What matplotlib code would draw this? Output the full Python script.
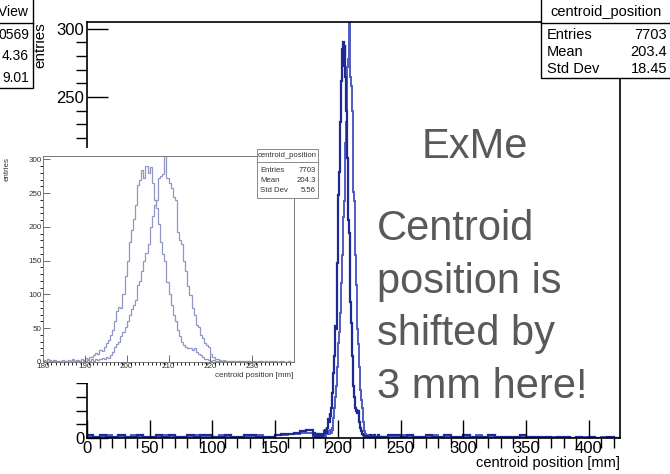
import numpy as np
import matplotlib.pyplot as plt
from matplotlib.patches import Rectangle
from matplotlib.lines import Line2D

plt.rcParams['font.family'] = ['Liberation Sans', 'DejaVu Sans']

W, H = 670, 474

# zoom window, 0.5 mm bins from 180 to 240 mm
zoom_range = (180, 240)
run_a = [3, 2, 4, 1, 2, 3, 1, 2, 0, 3,
         2, 1, 3, 2, 4, 1, 3, 2, 5, 3,
         6, 4, 8, 7, 10, 14, 12, 18, 16, 22,
         28, 33, 40, 48, 60, 75, 82, 80, 100, 128,
         150, 178, 195, 212, 232, 262, 270, 285, 272, 290,
         280, 288, 265, 240, 228, 205, 178, 160, 150, 118,
         100, 84, 70, 60, 48, 38, 30, 25, 22, 20,
         21, 18, 20, 15, 12, 10, 7, 5, 4, 3,
         2, 3, 1, 2, 1, 0, 2, 1, 0, 1,
         1, 0, 2, 1, 0, 1, 0, 1, 2, 0,
         1, 0, 0, 1, 2, 0, 1, 0, 0, 1,
         0, 1, 0, 0, 1, 0, 0, 1, 0, 0]
run_b = [2, 1, 0, 3, 1, 2, 0, 1, 2, 0,
         1, 2, 0, 1, 3, 0, 2, 1, 0, 2,
         1, 3, 2, 4, 2, 5, 3, 4, 6, 4,
         8, 6, 10, 15, 22, 26, 30, 38, 44, 52,
         60, 70, 78, 84, 92, 114, 120, 134, 150, 162,
         174, 200, 216, 232, 240, 272, 275, 278, 310, 272,
         265, 258, 245, 240, 193, 180, 174, 150, 134, 112,
         99, 80, 69, 55, 52, 40, 35, 28, 25, 22,
         12, 8, 5, 4, 3, 2, 3, 1, 2, 1,
         1, 2, 0, 1, 1, 0, 2, 0, 1, 0,
         0, 1, 0, 1, 0, 0, 1, 0, 1, 0,
         1, 0, 0, 1, 0, 0, 0, 1, 0, 0]

# full view outside the zoom window, 5 mm bins (0-180 and 240-425 mm)
base_left_a = [2, 1, 2, 1, 1, 2, 1, 1, 2, 1, 1, 2, 1, 2, 1, 1, 2, 1,
               2, 2, 1, 1, 2, 1, 1, 2, 2, 1, 1, 1, 2, 3, 3, 4, 5, 6]
base_left_b = [1, 1, 1, 2, 1, 1, 1, 2, 1, 1, 1, 1, 2, 1, 1, 1, 1, 2,
               1, 1, 1, 2, 1, 1, 1, 1, 1, 2, 1, 1, 2, 2, 3, 3, 4, 4]
base_right_a = [2, 2, 1, 2, 1, 1, 2, 1, 1, 2, 1, 1, 2, 1, 1, 1, 2, 1, 1,
                1, 1, 2, 1, 1, 1, 1, 0, 1, 1, 0, 1, 0, 1, 0, 0, 1, 0]
base_right_b = [1, 1, 2, 1, 1, 1, 1, 2, 1, 1, 1, 1, 1, 1, 2, 1, 1, 1, 1,
                1, 1, 1, 1, 0, 1, 1, 1, 0, 1, 0, 0, 1, 0, 0, 1, 0, 0]

main_stats = [("Entries", "7703"), ("Mean", "203.4"), ("Std Dev", "18.45")]
zoom_stats = [("Entries", "7703"), ("Mean", "204.3"), ("Std Dev", "5.56")]
cut_stats = ["yView", "0569", "4.36", "9.01"]

note_lines = ["Centroid", "position is", "shifted by", "3 mm here!"]


def fx(x):
    return x / W


def fy(y):
    return 1 - y / H


def box(fig, x0, y0, x1, y1, color="black", lw=1.0, z=5):
    fig.patches.append(Rectangle((fx(x0), fy(y1)), fx(x1) - fx(x0),
                                 fy(y0) - fy(y1), transform=fig.transFigure,
                                 facecolor="white", edgecolor=color,
                                 linewidth=lw, zorder=z))


def hline(fig, x0, x1, y, color="black", lw=1.0, z=6):
    fig.lines.append(Line2D([fx(x0), fx(x1)], [fy(y), fy(y)],
                            transform=fig.transFigure, color=color,
                            linewidth=lw, zorder=z))


fig = plt.figure(figsize=(W / 100, H / 100), dpi=100)

zoom_edges = np.linspace(zoom_range[0], zoom_range[1], len(run_a) + 1)
main_edges = np.concatenate([np.arange(0, 180, 5), zoom_edges,
                             np.arange(245, 426, 5)])
main_a = base_left_a + run_a + base_right_a
main_b = base_left_b + run_b + base_right_b

# main frame
ax = fig.add_axes([fx(87), fy(438), fx(620) - fx(87), fy(22) - fy(438)])
ax.stairs(main_b, main_edges, color="#4f5cc0", lw=1.4)
ax.stairs(main_a, main_edges, color="#1d2a94", lw=1.6)
ax.set_xlim(0, 425)
ax.set_ylim(0, 305)
ax.set_xticks(np.arange(0, 401, 50))
ax.set_xticks(np.arange(0, 426, 10), minor=True)
ax.set_yticks(np.arange(0, 301, 50))
ax.set_yticks(np.arange(0, 301, 10), minor=True)
ax.tick_params(direction="in", labelsize=12, pad=2, width=1, colors="black")
ax.tick_params(axis="y", which="major", length=15)
ax.tick_params(axis="y", which="minor", length=8, width=1)
ax.tick_params(axis="x", which="major", length=13)
ax.tick_params(axis="x", which="minor", length=7, width=1)
for s in ax.spines.values():
    s.set_linewidth(1.2)
fig.text(fx(620), fy(456), "centroid position [mm]", ha="right", va="top",
         fontsize=10.5)
fig.text(fx(40), fy(22), "entries", rotation=90, ha="center", va="top",
         fontsize=11)

# pasted zoomed plot, lower left
fig.patches.append(Rectangle((0, fy(383)), fx(322), fy(148) - fy(383),
                             transform=fig.transFigure, facecolor="white",
                             edgecolor="none", zorder=2))
axi = fig.add_axes([fx(43), fy(362), fx(294) - fx(43), fy(156) - fy(362)])
axi.set_zorder(3)
axi.stairs(run_a, zoom_edges, color="#9296c6", lw=0.9)
axi.stairs(run_b, zoom_edges, color="#9296c6", lw=0.9)
axi.set_xlim(zoom_range)
axi.set_ylim(0, 305)
axi.set_xticks(np.arange(180, 231, 10))
axi.set_xticks(np.arange(180, 240, 1), minor=True)
axi.set_yticks(np.arange(0, 301, 50))
axi.set_yticks(np.arange(0, 301, 10), minor=True)
axi.tick_params(direction="in", labelsize=5.8, pad=1, width=0.6,
                colors="#555555", labelcolor="#333333")
axi.tick_params(which="major", length=5)
axi.tick_params(which="minor", length=2.5)
for s in axi.spines.values():
    s.set_linewidth(0.7)
    s.set_color("#777777")
fig.text(fx(293), fy(372), "centroid position [mm]", ha="right", va="top",
         fontsize=5.8, color="#333333", zorder=4)
fig.text(fx(7), fy(157), "entries", rotation=90, ha="center", va="top",
         fontsize=5.8, color="#333333", zorder=4)

# zoom stats box
box(fig, 257, 149, 318, 198, color="#777777", lw=0.6, z=7)
hline(fig, 257, 318, 162, color="#777777", lw=0.6, z=8)
fig.text(fx(287.5), fy(155.5), "centroid_position", ha="center",
         va="center", fontsize=5.6, color="#333333", zorder=8)
for i, (k, v) in enumerate(zoom_stats):
    yy = 170 + i * 10
    fig.text(fx(260), fy(yy), k, ha="left", va="center", fontsize=5.6,
             color="#333333", zorder=8)
    fig.text(fx(316), fy(yy), v, ha="right", va="center", fontsize=5.6,
             color="#333333", zorder=8)

# main stats box, top right
box(fig, 541, -2, 675, 78, z=7)
hline(fig, 541, 675, 23, z=8)
fig.text(fx(606), fy(12), "centroid_position", ha="center", va="center",
         fontsize=10.5, zorder=8)
for i, (k, v) in enumerate(main_stats):
    yy = 35 + i * 17
    fig.text(fx(547), fy(yy), k, ha="left", va="center", fontsize=10.5,
             zorder=8)
    fig.text(fx(667), fy(yy), v, ha="right", va="center", fontsize=10.5,
             zorder=8)

# clipped stats box, top left
box(fig, -5, -2, 33, 88, z=7)
hline(fig, -5, 33, 23, z=8)
for i, t in enumerate(cut_stats):
    yy = 12 if i == 0 else 35 + (i - 1) * 21.5
    fig.text(fx(29), fy(yy), t, ha="right", va="center", fontsize=10,
             zorder=8)

# slide annotation
fig.text(fx(475), fy(158), "ExMe", ha="center", va="baseline",
         fontsize=30, color="#595959", zorder=9)
for i, t in enumerate(note_lines):
    fig.text(fx(377), fy(240 + i * 52.5), t, ha="left", va="baseline",
             fontsize=30, color="#595959", zorder=9)

fig.savefig("out.png", dpi=100)
